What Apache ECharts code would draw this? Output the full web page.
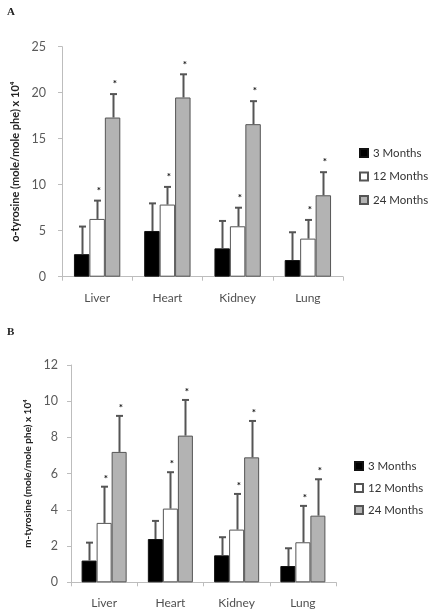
<!DOCTYPE html>
<html>
<head>
<meta charset="utf-8">
<script src="https://cdn.jsdelivr.net/npm/echarts@6/dist/echarts.min.js"></script>
<style>
html,body{margin:0;padding:0;background:#fff;}
#c{width:430px;height:613px;}
</style>
</head>
<body>
<div id="c"></div>
<script>
// ---- data ----
var categories = ['Liver', 'Heart', 'Kidney', 'Lung'];
var seriesNames = ['3 Months', '12 Months', '24 Months'];

// Panel A: o-tyrosine
var oTyr3 = [2.45, 4.97, 3.08, 1.81];
var oTyr12 = [6.28, 7.84, 5.48, 4.14];
var oTyr24 = [17.3, 19.48, 16.58, 8.85];
var oTyrErr3 = [3.0, 3.0, 2.98, 3.02];
var oTyrErr12 = [1.99, 1.92, 2.02, 2.03];
var oTyrErr24 = [2.55, 2.52, 2.5, 2.51];

// Panel B: m-tyrosine
var mTyr3 = [1.2, 2.39, 1.49, 0.9];
var mTyr12 = [3.28, 4.07, 2.91, 2.21];
var mTyr24 = [7.2, 8.1, 6.9, 3.68];
var mTyrErr3 = [0.99, 1.0, 1.0, 0.98];
var mTyrErr12 = [2.0, 2.01, 1.97, 2.01];
var mTyrErr24 = [1.99, 1.97, 2.01, 2.01];

// significance markers (per age group: 3, 12, 24 months)
var significant = [false, true, true];

var yTicksA = {min: 0, max: 25, interval: 5};
var yTicksB = {min: 0, max: 12, interval: 2};

// ---- styling ----
var FONT = 'Lato';
var fills = ['#000000', '#ffffff', '#b3b3b3'];
var borders = ['#111111', '#555555', '#555555'];
var gapA = 0.34, gapB = 0.32;

function barSeries(idx, name, values, axisIdx, gap) {
  return {
    type: 'bar', name: name, data: values,
    xAxisIndex: axisIdx, yAxisIndex: axisIdx,
    barGap: '0%', barCategoryGap: (gap * 100) + '%',
    itemStyle: {color: fills[idx], borderColor: borders[idx], borderWidth: 1},
    emphasis: {disabled: true}, animation: false, z: 2
  };
}

function errSeries(means, errs, axisIdx, gap, starGap) {
  var data = [];
  for (var s = 0; s < 3; s++) {
    for (var c = 0; c < categories.length; c++) {
      data.push([c, s, means[s][c], errs[s][c]]);
    }
  }
  return {
    type: 'custom', xAxisIndex: axisIdx, yAxisIndex: axisIdx,
    data: data, z: 5, animation: false, silent: true,
    renderItem: function (params, api) {
      var c = api.value(0), s = api.value(1), m = api.value(2), e = api.value(3);
      var base = api.coord([c, m]);
      var top = api.coord([c, m + e]);
      var band = api.size([1, 0])[0];
      var bw = band * (1 - gap) / 3;
      var x = Math.round(base[0] + (s - 1) * bw) + 0.5;
      var st = {stroke: '#555555', lineWidth: 2};
      var children = [
        {type: 'line', shape: {x1: x, y1: base[1], x2: x, y2: top[1]}, style: st},
        {type: 'line', shape: {x1: x - 3.5, y1: top[1], x2: x + 3.5, y2: top[1]}, style: st}
      ];
      if (significant[s]) {
        children.push({type: 'text', x: x + 1.5, y: top[1] - starGap,
          style: {text: '*', fill: '#111', font: 'bold 10px ' + FONT, align: 'center', verticalAlign: 'middle'}});
      }
      return {type: 'group', children: children};
    }
  };
}

function yAxis(idx, ticks, name, nameGap, nameSize, labelMargin) {
  return {
    type: 'value', gridIndex: idx, min: ticks.min, max: ticks.max, interval: ticks.interval,
    name: name, nameLocation: 'middle', nameRotate: 90, nameGap: nameGap,
    nameTextStyle: {fontFamily: FONT, fontSize: nameSize, fontWeight: 'bold', color: '#222'},
    axisLine: {show: true, lineStyle: {color: '#bdbdbd', width: 1}},
    axisTick: {show: true, length: 4, lineStyle: {color: '#bdbdbd'}},
    axisLabel: {fontFamily: FONT, fontSize: 12.5, color: '#5a5a5a', margin: labelMargin},
    splitLine: {show: false}
  };
}

function xAxis(idx) {
  return {
    type: 'category', gridIndex: idx, data: categories,
    axisLine: {show: true, lineStyle: {color: '#bdbdbd', width: 1}},
    axisTick: {show: true, length: 4, lineStyle: {color: '#bdbdbd'}},
    axisLabel: {fontFamily: FONT, fontSize: 12, color: '#505050', margin: 15}
  };
}

function legend(left, top, gap) {
  return {
    data: seriesNames, orient: 'vertical', left: left, top: top,
    itemWidth: 8, itemHeight: 8, itemGap: gap, icon: 'rect',
    selectedMode: false, padding: 0,
    textStyle: {fontFamily: FONT, fontSize: 11.5, color: '#333'}
  };
}

var chart = echarts.init(document.getElementById('c'), null, {renderer: 'canvas'});
chart.setOption({
  animation: false,
  backgroundColor: '#ffffff',
  title: [
    {text: 'A', left: 2, top: 2, textStyle: {fontFamily: 'Liberation Serif', fontSize: 11, fontWeight: 'bold', color: '#222'}},
    {text: 'B', left: 2, top: 322, textStyle: {fontFamily: 'Liberation Serif', fontSize: 11, fontWeight: 'bold', color: '#222'}}
  ],
  legend: [legend(359, 147, 11.5), legend(354, 460, 10)],
  grid: [
    {left: 62, right: 87, top: 46.7, bottom: 336.3},
    {left: 71, right: 94, top: 365, bottom: 30.7}
  ],
  xAxis: [xAxis(0), xAxis(1)],
  yAxis: [
    yAxis(0, yTicksA, 'o-tyrosine (mole/mole phe) x 10\u2074', 40, 11, 16),
    yAxis(1, yTicksB, 'm-tyrosine (mole/mole phe) x 10\u2074', 38, 10, 13)
  ],
  series: [
    barSeries(0, seriesNames[0], oTyr3, 0, gapA),
    barSeries(1, seriesNames[1], oTyr12, 0, gapA),
    barSeries(2, seriesNames[2], oTyr24, 0, gapA),
    barSeries(0, seriesNames[0], mTyr3, 1, gapB),
    barSeries(1, seriesNames[1], mTyr12, 1, gapB),
    barSeries(2, seriesNames[2], mTyr24, 1, gapB),
    errSeries([oTyr3, oTyr12, oTyr24], [oTyrErr3, oTyrErr12, oTyrErr24], 0, gapA, 10),
    errSeries([mTyr3, mTyr12, mTyr24], [mTyrErr3, mTyrErr12, mTyrErr24], 1, gapB, 8)
  ]
});
</script>
</body>
</html>
